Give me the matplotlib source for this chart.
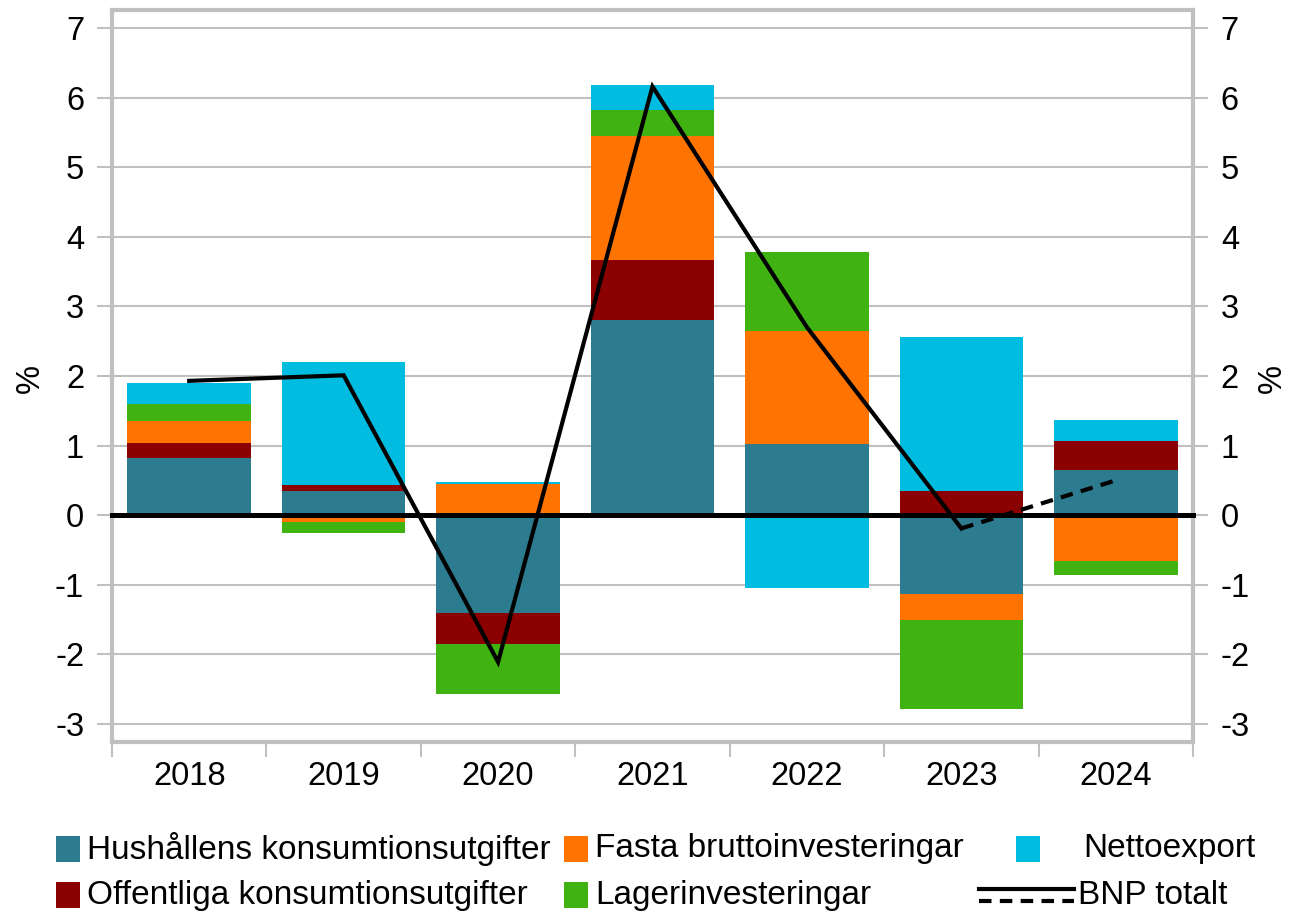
import numpy as np
import matplotlib
matplotlib.use('Agg')
import matplotlib.pyplot as plt
from matplotlib.patches import Rectangle
from matplotlib.lines import Line2D

plt.rcParams['font.family'] = ['Liberation Sans', 'DejaVu Sans']
plt.rcParams['axes.unicode_minus'] = False

years = ['2018', '2019', '2020', '2021', '2022', '2023', '2024']

# bidrag till BNP-tillväxt, procentenheter
hushall = [0.82, 0.35, -1.40, 2.80, 1.02, -1.13, 0.65]
offentlig = [0.21, 0.08, -0.45, 0.87, 0.0, 0.345, 0.41]
fasta = [0.32, -0.10, 0.45, 1.78, 1.63, -0.37, -0.66]
lager = [0.25, -0.15, -0.72, 0.38, 1.13, -1.28, -0.20]
netto = [0.30, 1.77, 0.02, 0.35, -1.04, 2.22, 0.31]
bnp = [1.93, 2.01, -2.11, 6.16, 2.70, -0.19, 0.50]

series = [
    ('Hushållens konsumtionsutgifter', hushall, '#2C7B8F'),
    ('Offentliga konsumtionsutgifter', offentlig, '#8B0000'),
    ('Fasta bruttoinvesteringar', fasta, '#FF7400'),
    ('Lagerinvesteringar', lager, '#40B211'),
    ('Nettoexport', netto, '#00BCE0'),
]

grey = '#C0C0C0'
fs = 23.5
fs_leg = 24

fig = plt.figure(figsize=(12.89, 9.13), dpi=100)
ax = fig.add_axes([112 / 1289, 1 - 742 / 913, (1193 - 112) / 1289, (742 - 10) / 913])

x = np.arange(len(years))
pos = np.zeros(len(years))
neg = np.zeros(len(years))
for name, vals, col in series:
    v = np.array(vals)
    base = np.where(v >= 0, pos, neg)
    ax.bar(x, v, width=0.8, bottom=base, color=col, linewidth=0, zorder=2)
    pos = pos + np.where(v >= 0, v, 0)
    neg = neg + np.where(v < 0, v, 0)

ax.axhline(0, color='black', lw=3.6, zorder=3, clip_on=False)

# BNP totalt: utfall heldragen, prognos streckad
ax.plot(x[:6], bnp[:6], color='black', lw=3, zorder=4, solid_joinstyle='miter')
ax.plot(x[5:], bnp[5:], color='black', lw=3, ls=(0, (3, 2)), zorder=4)

ax.set_xlim(-0.5, 6.5)
ax.set_ylim(-3.26, 7.26)
ax.set_yticks(range(-3, 8))
ax.set_xticks(x)
ax.set_xticklabels(years)
ax.set_xticks(np.arange(-0.5, 7, 1), minor=True)
ax.grid(axis='y', color=grey, lw=1.5, zorder=0)
ax.set_axisbelow(True)

for s in ax.spines.values():
    s.set_color(grey)
    s.set_linewidth(3)

ax.tick_params(axis='y', which='major', length=11, width=1.5, color=grey,
               labelsize=fs, pad=9, left=True, right=True, labelright=True)
ax.tick_params(axis='x', which='major', length=0, labelsize=fs, pad=14)
ax.tick_params(axis='x', which='minor', length=11, width=1.5, color=grey)

# %-etiketter på båda sidor
fig.text(30 / 1289, 1 - 378 / 913, '%', rotation=90, fontsize=fs,
         ha='center', va='center')
fig.text(1272 / 1289, 1 - 378 / 913, '%', rotation=90, fontsize=fs,
         ha='center', va='center')

# legend, placerad som i originalet
def fx(px):
    return px / 1289

def fy(py):
    return 1 - py / 913

items = [
    (series[0], 56, 849),
    (series[1], 56, 895),
    (series[2], 564, 849),
    (series[3], 564, 895),
    (series[4], 1016, 849),
]
text_x = {56: 87, 564: 595, 1016: 1083}
for (name, vals, col), px, py in items:
    fig.add_artist(Rectangle((fx(px), fy(py + 13)), fx(24), 26 / 913,
                             transform=fig.transFigure, facecolor=col, lw=0))
    fig.text(fx(text_x[px]), fy(py), name, fontsize=fs_leg, va='center', ha='left')

fig.add_artist(Line2D([fx(979), fx(1074)], [fy(889), fy(889)], color='black',
                      lw=3, transform=fig.transFigure))
fig.add_artist(Line2D([fx(979), fx(1074)], [fy(901), fy(901)], color='black',
                      lw=3, ls=(0, (3, 2)), transform=fig.transFigure))
fig.text(fx(1078), fy(895), 'BNP totalt', fontsize=fs_leg, va='center', ha='left')

fig.savefig('out.png', dpi=100)
